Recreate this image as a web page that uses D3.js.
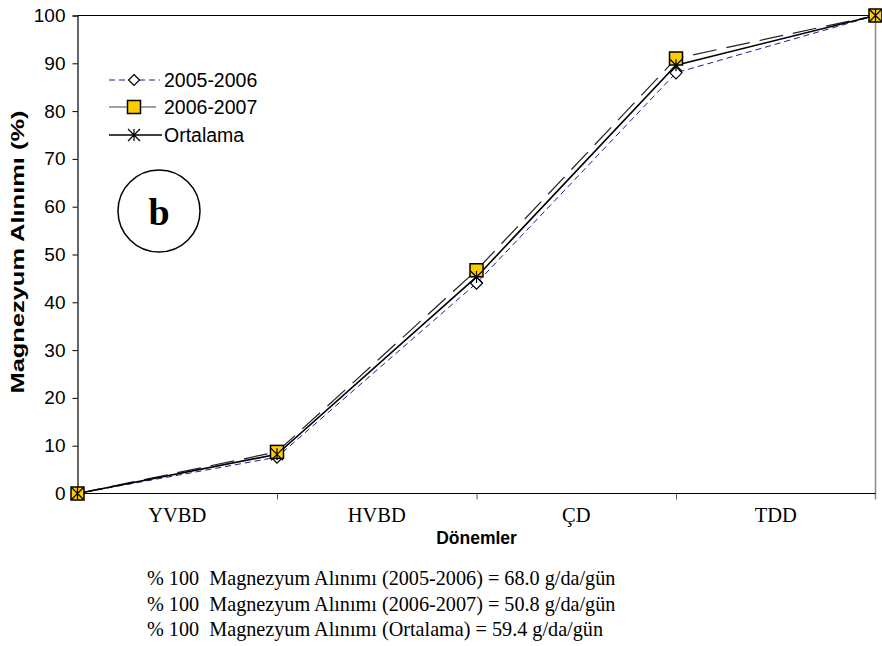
<!DOCTYPE html>
<html><head><meta charset="utf-8">
<script src="https://cdn.jsdelivr.net/npm/d3@7"></script>
<style>body{margin:0;background:#fff}svg{display:block}</style>
</head><body>
<svg id="c" width="882" height="646"></svg>
<script>
const periods = ["YVBD","HVBD","ÇD","TDD"];
const yTicks = [0,10,20,30,40,50,60,70,80,90,100];
const s0506 = [0, 7.6, 44.0, 88.0, 100];
const s0607 = [0, 8.7, 46.7, 91.0, 100];
const sOrt  = [0, 8.2, 45.3, 89.6, 100];
const seriesNames = ["2005-2006","2006-2007","Ortalama"];
const notes = [
  "% 100  Magnezyum Alınımı (2005-2006) = 68.0 g/da/gün",
  "% 100  Magnezyum Alınımı (2006-2007) = 50.8 g/da/gün",
  "% 100  Magnezyum Alınımı (Ortalama) = 59.4 g/da/gün"
];

const svg = d3.select("#c");
const L = 77.5, R = 875.5, T = 15.5, B = 493.5;
const x = d3.scaleLinear().domain([0, periods.length]).range([L, R]);
const xb = d3.scaleBand().domain(periods).range([L, R]);
const y = d3.scaleLinear().domain([0, 100]).range([B, T]);
const SANS = "Arial, Liberation Sans, sans-serif";
const SERIF = "Times New Roman, Liberation Serif, serif";

svg.append("line").attr("x1",L).attr("x2",R).attr("y1",T).attr("y2",T).attr("stroke","#000").attr("stroke-width",1.2);
svg.append("line").attr("x1",R).attr("x2",R).attr("y1",T).attr("y2",B+6).attr("stroke","#888").attr("stroke-width",1.5);

const ya = svg.append("g").attr("transform",`translate(${L},0)`)
  .call(d3.axisLeft(y).tickValues(yTicks).tickSize(5).tickPadding(7));
ya.select(".domain").attr("stroke","#000").attr("stroke-width",1.2);
ya.selectAll("text").attr("font-family",SANS).attr("font-size",19).attr("fill","#000");

const xa = svg.append("g").attr("transform",`translate(0,${B})`)
  .call(d3.axisBottom(x).tickValues(d3.range(1, periods.length)).tickSize(6).tickFormat(""));
xa.select(".domain").attr("stroke","#000").attr("stroke-width",1.2).attr("d",`M${L},0H${R}`);
xa.selectAll(".tick line").attr("stroke","#555");
svg.append("g").selectAll("text").data(periods).join("text")
  .attr("x", d => xb(d) + xb.bandwidth()/2).attr("y", B + 28)
  .attr("text-anchor","middle").attr("font-family",SERIF).attr("font-size",20.5)
  .text(d => d);

svg.append("text").attr("x", (L+R)/2).attr("y", 544).attr("text-anchor","middle")
  .attr("font-family",SANS).attr("font-weight","bold").attr("font-size",17.5).text("Dönemler");
svg.append("text").attr("transform",`translate(24,252) rotate(-90)`).attr("text-anchor","middle")
  .attr("font-family",SANS).attr("font-weight","bold").attr("font-size",17.5)
  .attr("textLength",283).attr("lengthAdjust","spacingAndGlyphs").text("Magnezyum Alınımı (%)");

const line = d3.line().x((d,i) => x(i)).y(d => y(d));

svg.append("path").datum(s0607).attr("d", line).attr("fill","none").attr("stroke","#222").attr("stroke-width",1.2).attr("stroke-dasharray","24,10");
svg.append("path").datum(s0506).attr("d", line).attr("fill","none").attr("stroke","#1a1a99").attr("stroke-width",1).attr("stroke-dasharray","6,4");
svg.append("path").datum(sOrt).attr("d", line).attr("fill","none").attr("stroke","#000").attr("stroke-width",1.6);

function diamond(g, cx, cy, r) {
  r = r || 6;
  g.append("path").attr("d",`M${cx},${cy-r}L${cx+r},${cy}L${cx},${cy+r}L${cx-r},${cy}Z`)
    .attr("fill","#fff").attr("stroke","#000").attr("stroke-width",1.2);
}
function square(g, cx, cy) {
  g.append("rect").attr("x",cx-6.5).attr("y",cy-6.5).attr("width",13).attr("height",13)
    .attr("fill","#FFCC00").attr("stroke","#000").attr("stroke-width",1.5);
}
function star(g, cx, cy) {
  const r = 6;
  g.append("path").attr("d",`M${cx-r},${cy-r}L${cx+r},${cy+r}M${cx+r},${cy-r}L${cx-r},${cy+r}M${cx},${cy-r}L${cx},${cy+r}`)
    .attr("stroke","#000").attr("stroke-width",1.2).attr("fill","none");
}
const mk = svg.append("g");
s0506.forEach((v,i) => diamond(mk, x(i), y(v)));
s0607.forEach((v,i) => square(mk, x(i), y(v)));
sOrt.forEach((v,i) => star(mk, x(i), y(v)));

const lg = svg.append("g");
const legY = [80, 107, 135];
lg.append("line").attr("x1",109).attr("x2",160).attr("y1",legY[0]).attr("y2",legY[0]).attr("stroke","#1a1a99").attr("stroke-dasharray","6,4");
diamond(lg, 134, legY[0], 5.5);
lg.append("line").attr("x1",109).attr("x2",156).attr("y1",legY[1]).attr("y2",legY[1]).attr("stroke","#444").attr("stroke-width",1.2);
square(lg, 134, legY[1]);
lg.append("line").attr("x1",109).attr("x2",162).attr("y1",legY[2]).attr("y2",legY[2]).attr("stroke","#000").attr("stroke-width",1.4);
star(lg, 134, legY[2]);
lg.selectAll("text.l").data(seriesNames).join("text").attr("class","l")
  .attr("x",164).attr("y",(d,i)=>legY[i]+7)
  .attr("font-family",SANS).attr("font-size",19.5).text(d=>d);

svg.append("circle").attr("cx",159).attr("cy",211).attr("r",41).attr("fill","none").attr("stroke","#000").attr("stroke-width",1.5);
svg.append("text").attr("x",159).attr("y",225).attr("text-anchor","middle")
  .attr("font-family",SERIF).attr("font-weight","bold").attr("font-size",38).text("b");

svg.append("g").selectAll("text").data(notes).join("text")
  .attr("x",147).attr("y",(d,i)=>585 + i*25.5)
  .attr("font-family",SERIF).attr("font-size",20.2)
  .attr("xml:space","preserve").style("white-space","pre").text(d=>d);
</script>
</body></html>
